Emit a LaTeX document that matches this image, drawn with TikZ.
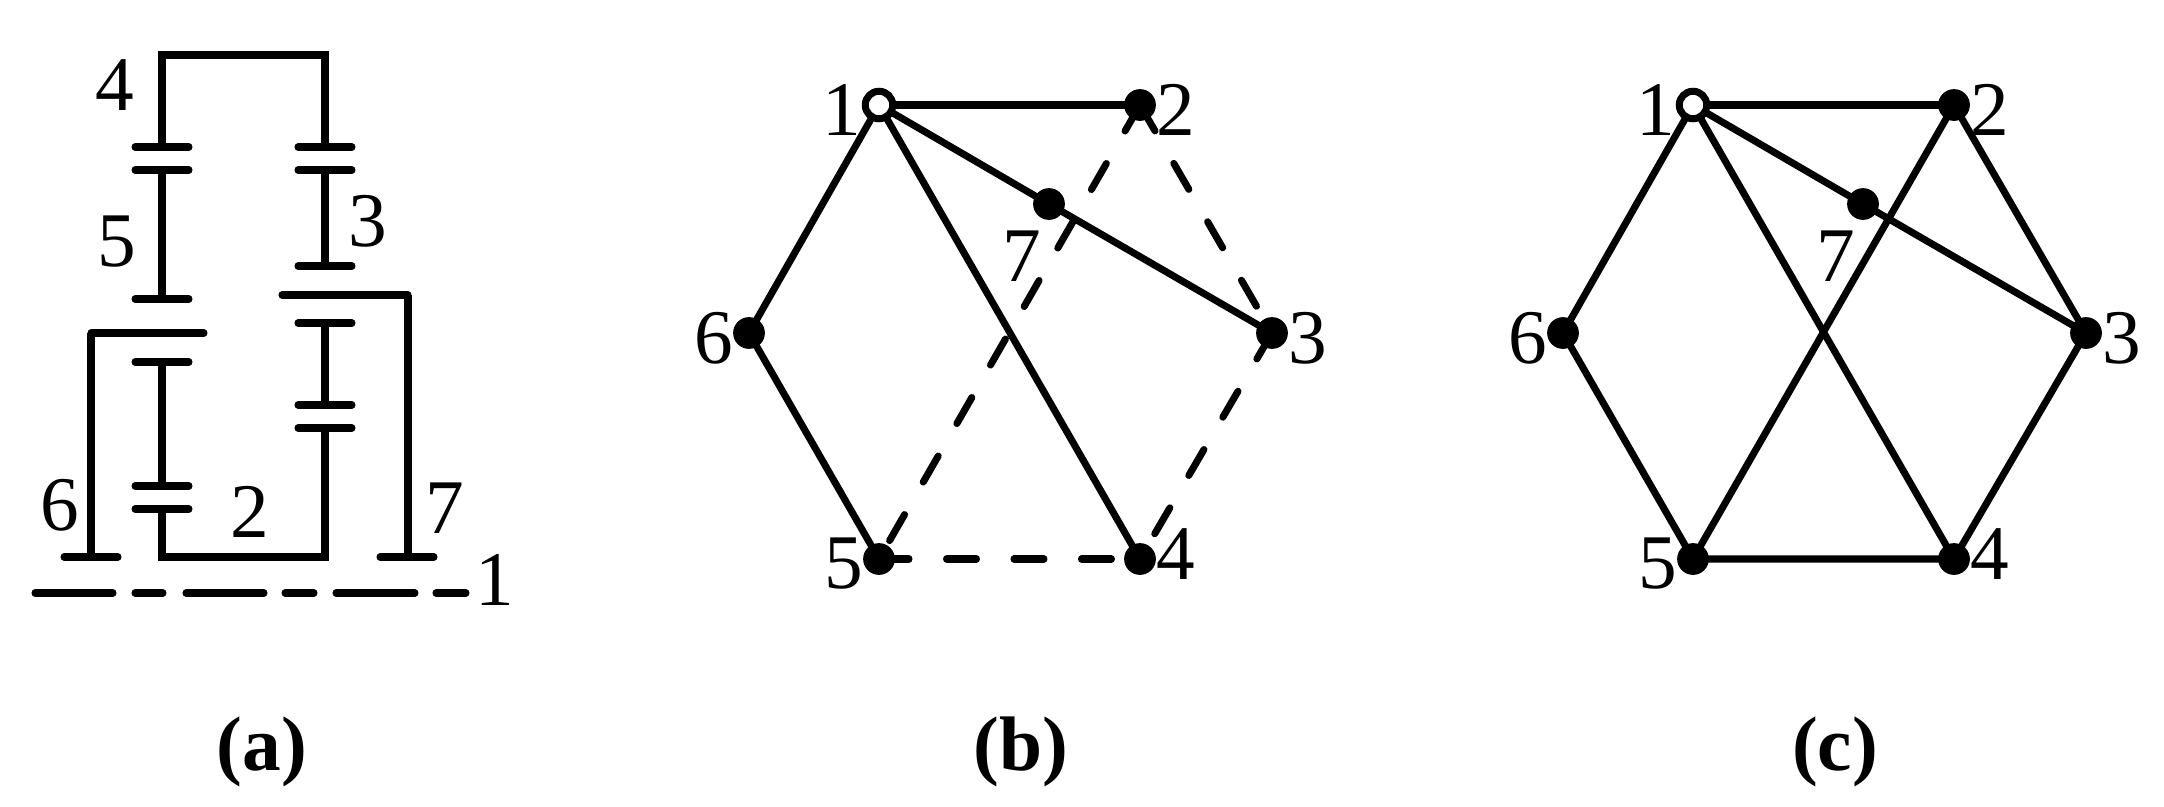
\documentclass[tikz,border=0pt]{standalone}
\usepackage{fontspec}
\setmainfont{Liberation Serif}
\begin{document}
\begin{tikzpicture}[x=0.02cm,y=-0.02cm,
  ln/.style={line width=4pt,line cap=round},
  sh/.style={line width=4pt,line cap=butt},
  dsh/.style={line width=4pt,line cap=round,dash pattern=on 0.6cm off 0.75cm},
  lab/.style={font=\fontsize{44}{48}\selectfont,inner sep=0pt},
  captxt/.style={font=\fontsize{44}{48}\selectfont\bfseries},
  fn/.style={circle,fill=black,draw=black,line width=1pt,minimum size=0.6cm,inner sep=0pt},
  opn/.style={circle,fill=white,draw=black,line width=4pt,minimum size=0.55cm,inner sep=0pt}]
\useasboundingbox (0,0) rectangle (2164,806);
% ---------- (a)
\draw[sh] (162,147) -- (162,55) -- (325,55) -- (325,147);
\foreach \x/\y in {162/147,162/170,162/299,325/147,325/170,325/266,325/323,325/405,325/428,162/362,162/486,162/509,91/557,407/557}
  \draw[ln] (\x-27,\y) -- (\x+27,\y);
\draw[sh] (162,170) -- (162,299);
\draw[sh] (325,170) -- (325,266);
\draw[ln] (282,295) -- (408,295);
\draw[sh] (408,295) -- (408,557);
\draw[sh] (325,323) -- (325,405);
\draw[sh] (325,428) -- (325,557) -- (162,557) -- (162,509);
\draw[sh] (162,362) -- (162,486);
\draw[ln] (204,333) -- (91,333);
\draw[sh] (91,333) -- (91,557);
\foreach \a/\b in {35/113,135/163,186/264,285/314,336/415,436/466}
  \draw[ln] (\a,593) -- (\b,593);
\node[lab] (a4) at (115,85) {4};
\node[lab] (a5) at (117,242) {5};
\node[lab] (a3) at (368,221) {3};
\node[lab] (a6) at (60,505) {6};
\node[lab] (a2) at (250,512) {2};
\node[lab] (a7) at (445,508) {7};
\node[lab] (a1) at (495,580) {1};
\node[captxt] (ca) at (262,752) {(a)};
% ---------- graphs
\foreach \dx/\pf/\cp in {0/b/(b),814/c/(c)}{
  \coordinate (\pf1) at (879+\dx,105);
  \coordinate (\pf2) at (1140+\dx,105);
  \coordinate (\pf7) at (1049+\dx,204);
  \coordinate (\pf6) at (749+\dx,333);
  \coordinate (\pf3) at (1272+\dx,333);
  \coordinate (\pf5) at (879+\dx,559);
  \coordinate (\pf4) at (1140+\dx,559);
  \draw[sh] (\pf1) -- (\pf2);
  \draw[sh] (\pf1) -- (\pf7) -- (\pf3);
  \draw[sh] (\pf1) -- (\pf6) -- (\pf5);
  \draw[sh] (\pf1) -- (\pf4);
  \node[captxt] (cap\pf) at (1021+\dx,752) {\cp};
}
\draw[dsh] (b2) -- (b5);
\draw[dsh] (b2) -- (b3);
\draw[dsh] (b3) -- (b4);
\draw[dsh] (b5) -- (b4);
\draw[sh] (c2) -- (c5);
\draw[sh] (c2) -- (c3) -- (c4) -- (c5);
\foreach \pf in {b,c}{
  \node[opn] (\pf n1) at (\pf1) {};
  \foreach \i in {2,3,4,5,6,7} \node[fn] (\pf n\i) at (\pf\i) {};
  \node[lab,left] (\pf l1) at ([yshift=-0.1cm]\pf n1.west) {1};
  \node[lab,right] (\pf l2) at ([yshift=-0.1cm]\pf n2.east) {2};
  \node[lab,right] (\pf l3) at ([yshift=-0.1cm]\pf n3.east) {3};
  \node[lab,right] (\pf l4) at ([yshift=0.1cm]\pf n4.east) {4};
  \node[lab,left] (\pf l5) at ([yshift=-0.1cm]\pf n5.west) {5};
  \node[lab,left] (\pf l6) at ([yshift=-0.1cm]\pf n6.west) {6};
  \node[lab] (\pf l7) at ([xshift=-0.55cm,yshift=-1.05cm]\pf n7) {7};
}
\end{tikzpicture}
\end{document}
